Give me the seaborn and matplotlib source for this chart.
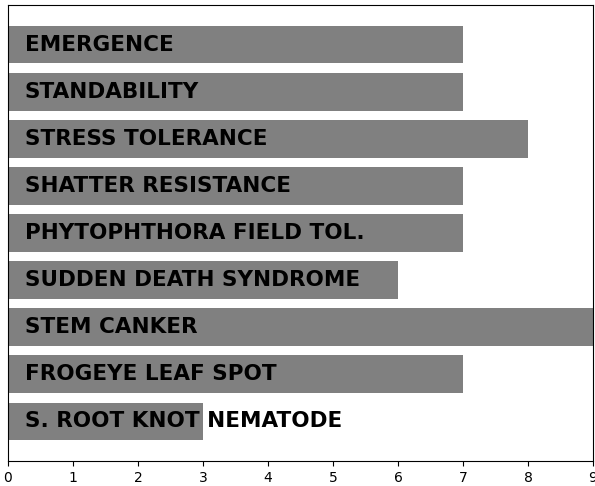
import matplotlib
matplotlib.use("Agg")
import matplotlib.pyplot as plt
import seaborn as sns
import pandas as pd

traits = [
    "EMERGENCE",
    "STANDABILITY",
    "STRESS TOLERANCE",
    "SHATTER RESISTANCE",
    "PHYTOPHTHORA FIELD TOL.",
    "SUDDEN DEATH SYNDROME",
    "STEM CANKER",
    "FROGEYE LEAF SPOT",
    "S. ROOT KNOT NEMATODE",
]
scores = [7, 7, 8, 7, 7, 6, 9, 7, 3]
x_ticks = list(range(10))

df = pd.DataFrame({"trait": traits, "score": scores})

fig = plt.figure(figsize=(5.95, 4.86), dpi=100)
ax = fig.add_axes([8 / 595, 25 / 486, 585 / 595, 456 / 486])

sns.barplot(data=df, x="score", y="trait", orient="h", color="#808080",
            saturation=1, width=0.8, ax=ax)

# labels sit inside the bars, left aligned
for i, name in enumerate(traits):
    ax.text(0.26, i, name, va="center", ha="left", fontsize=15.5,
            fontweight="bold", color="black")

ax.set_xlim(0, 9)
ax.set_ylim(8.4 + 0.44, -0.4 - 0.44)
ax.set_xticks(x_ticks)
ax.set_yticks([])
ax.set_xlabel("")
ax.set_ylabel("")
for s in ax.spines.values():
    s.set_visible(True)
    s.set_color("black")

fig.savefig("out.png", dpi=100)
